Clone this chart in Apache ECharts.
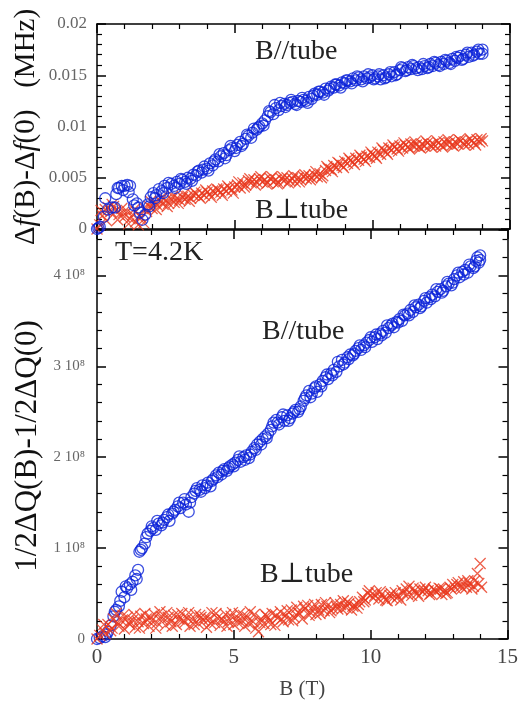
<!DOCTYPE html>
<html>
<head>
<meta charset="utf-8">
<script src="https://cdn.jsdelivr.net/npm/echarts@6/dist/echarts.min.js"></script>
<style>
html,body{margin:0;padding:0;background:#fff;}
#chart{width:521px;height:705px;}
</style>
</head>
<body>
<div id="chart"></div>
<script>
// Field B (T) and measured values, two field sweeps per series
const dfParallel = [[0,0],[0.1,0.0002],[0.25,0.0012],[0.4,0.0019],[0.55,0.0021],[0.7,0.0034],[0.8,0.0040],[0.9,0.0042],[1.0,0.0042],[1.1,0.0043],[1.2,0.0042],[1.3,0.0029],[1.45,0.0025],[1.55,0.0016],[1.65,0.0009],[1.75,0.0014],[1.85,0.0024],[1.95,0.0031],[2.05,0.0035],[2.15,0.0033],[2.25,0.0039],[2.35,0.0037],[2.45,0.0042],[2.55,0.0040],[2.7,0.0044],[2.8,0.0042],[2.9,0.0046],[3.0,0.0044],[3.1,0.0048],[3.2,0.0046],[3.3,0.0050],[3.4,0.0049],[3.5,0.0053],[3.6,0.0052],[3.7,0.0057],[3.8,0.0055],[3.9,0.0061],[4.0,0.0059],[4.1,0.0064],[4.2,0.0062],[4.3,0.0068],[4.4,0.0066],[4.5,0.0071],[4.6,0.0074],[4.7,0.0072],[4.8,0.0077],[4.9,0.0079],[5.0,0.0076],[5.1,0.0082],[5.2,0.0085],[5.3,0.0083],[5.4,0.0088],[5.5,0.0091],[5.6,0.0089],[5.7,0.0098],[5.8,0.0097],[5.9,0.0100],[6.0,0.0103],[6.1,0.0106],[6.2,0.0110],[6.3,0.0114],[6.4,0.0112],[6.5,0.0118],[6.6,0.0116],[6.7,0.0120],[6.8,0.0122],[6.9,0.0121],[7.0,0.0123],[7.1,0.0124],[7.2,0.0122],[7.3,0.0125],[7.4,0.0124],[7.5,0.0126],[7.6,0.0125],[7.7,0.0129],[7.8,0.0127],[7.9,0.0132],[8.0,0.0131],[8.1,0.0134],[8.2,0.0133],[8.3,0.0137],[8.4,0.0135],[8.5,0.0139],[8.6,0.0138],[8.7,0.0141],[8.8,0.0140],[8.9,0.0143],[9.0,0.0142],[9.1,0.0145],[9.2,0.0144],[9.3,0.0147],[9.4,0.0145],[9.5,0.0148],[9.6,0.0146],[9.7,0.0149],[9.8,0.0147],[9.9,0.0148],[10.0,0.0150],[10.1,0.0147],[10.2,0.0149],[10.3,0.0146],[10.4,0.0150],[10.5,0.0148],[10.6,0.0151],[10.7,0.0149],[10.8,0.0153],[10.9,0.0151],[11.0,0.0155],[11.1,0.0157],[11.2,0.0154],[11.3,0.0158],[11.4,0.0156],[11.5,0.0159],[11.6,0.0157],[11.7,0.0158],[11.8,0.0156],[11.9,0.0159],[12.0,0.0157],[12.1,0.0161],[12.2,0.0159],[12.3,0.0162],[12.4,0.0160],[12.5,0.0163],[12.6,0.0161],[12.7,0.0164],[12.8,0.0162],[12.9,0.0166],[13.0,0.0164],[13.1,0.0167],[13.2,0.0169],[13.3,0.0166],[13.4,0.0170],[13.5,0.0168],[13.6,0.0172],[13.7,0.0170],[13.8,0.0173],[13.9,0.0171],[14.0,0.0175]];
const dfParallelSweep2 = [[0.05,0.0001],[0.3,0.0030],[0.65,0.0021],[0.75,0.0040],[0.95,0.0038],[1.15,0.0036],[1.35,0.0023],[1.5,0.0021],[1.9,0.0022],[2.1,0.0030],[2.4,0.0035],[2.6,0.0045],[2.85,0.0040],[3.05,0.0049],[3.25,0.0044],[3.45,0.0047],[3.65,0.0056],[3.85,0.0058],[4.05,0.0057],[4.25,0.0066],[4.45,0.0073],[4.65,0.0069],[4.85,0.0081],[5.05,0.0079],[5.25,0.0081],[5.45,0.0092],[5.65,0.0094],[5.85,0.0099],[6.05,0.0101],[6.25,0.0115],[6.45,0.0121],[6.65,0.0123],[6.85,0.0119],[7.05,0.0126],[7.25,0.0121],[7.45,0.0128],[7.65,0.0123],[7.85,0.0130],[8.05,0.0134],[8.25,0.0131],[8.45,0.0137],[8.65,0.0141],[8.85,0.0138],[9.05,0.0145],[9.25,0.0142],[9.45,0.0149],[9.65,0.0144],[9.85,0.0151],[10.05,0.0146],[10.25,0.0151],[10.45,0.0147],[10.65,0.0153],[10.85,0.0150],[11.05,0.0158],[11.25,0.0155],[11.45,0.0160],[11.65,0.0155],[11.85,0.0161],[12.05,0.0158],[12.25,0.0163],[12.45,0.0159],[12.65,0.0165],[12.85,0.0161],[13.05,0.0168],[13.25,0.0165],[13.45,0.0172],[13.65,0.0169],[13.85,0.0175],[14.0,0.0171]];

const dfPerp = [[0,0],[0.1,0.0004],[0.2,0.0013],[0.3,0.0019],[0.4,0.0021],[0.5,0.0017],[0.6,0.0022],[0.7,0.0018],[0.8,0.0014],[0.9,0.0020],[1.0,0.0012],[1.1,0.0017],[1.2,0.0010],[1.3,0.0014],[1.4,0.0007],[1.5,0.0004],[1.6,0.0011],[1.7,0.0006],[1.8,0.0017],[1.9,0.0022],[2.0,0.0020],[2.1,0.0026],[2.2,0.0023],[2.3,0.0027],[2.4,0.0024],[2.5,0.0028],[2.6,0.0025],[2.7,0.0029],[2.8,0.0026],[2.9,0.0030],[3.0,0.0028],[3.1,0.0031],[3.2,0.0029],[3.3,0.0032],[3.4,0.0030],[3.5,0.0033],[3.6,0.0034],[3.7,0.0032],[3.8,0.0035],[3.9,0.0033],[4.0,0.0036],[4.1,0.0034],[4.2,0.0037],[4.3,0.0035],[4.4,0.0038],[4.5,0.0036],[4.6,0.0039],[4.7,0.0037],[4.8,0.0040],[4.9,0.0038],[5.0,0.0041],[5.1,0.0043],[5.2,0.0040],[5.3,0.0045],[5.4,0.0043],[5.5,0.0047],[5.6,0.0045],[5.7,0.0048],[5.8,0.0046],[5.9,0.0049],[6.0,0.0046],[6.1,0.0048],[6.2,0.0045],[6.3,0.0049],[6.4,0.0046],[6.5,0.0048],[6.6,0.0045],[6.7,0.0049],[6.8,0.0047],[6.9,0.0050],[7.0,0.0047],[7.1,0.0049],[7.2,0.0046],[7.3,0.0050],[7.4,0.0048],[7.5,0.0051],[7.6,0.0049],[7.7,0.0052],[7.8,0.0050],[7.9,0.0053],[8.0,0.0051],[8.1,0.0054],[8.2,0.0052],[8.3,0.0057],[8.4,0.0059],[8.5,0.0058],[8.6,0.0062],[8.7,0.0060],[8.8,0.0064],[8.9,0.0062],[9.0,0.0066],[9.1,0.0064],[9.2,0.0067],[9.3,0.0065],[9.4,0.0069],[9.5,0.0067],[9.6,0.0070],[9.7,0.0068],[9.8,0.0071],[9.9,0.0070],[10.0,0.0073],[10.1,0.0071],[10.2,0.0075],[10.3,0.0073],[10.4,0.0077],[10.5,0.0075],[10.6,0.0079],[10.7,0.0077],[10.8,0.0080],[10.9,0.0078],[11.0,0.0081],[11.1,0.0079],[11.2,0.0082],[11.3,0.0080],[11.4,0.0083],[11.5,0.0081],[11.6,0.0082],[11.7,0.0080],[11.8,0.0083],[11.9,0.0081],[12.0,0.0084],[12.1,0.0082],[12.2,0.0083],[12.3,0.0081],[12.4,0.0084],[12.5,0.0082],[12.6,0.0085],[12.7,0.0083],[12.8,0.0084],[12.9,0.0082],[13.0,0.0085],[13.1,0.0083],[13.2,0.0086],[13.3,0.0084],[13.4,0.0085],[13.5,0.0083],[13.6,0.0086],[13.7,0.0084],[13.8,0.0087],[13.9,0.0085],[14.0,0.0086]];
const dfPerpSweep2 = [[0.15,0.0018],[0.35,0.0008],[0.55,0.0024],[0.75,0.0009],[0.95,0.0016],[1.15,0.0005],[1.35,0.0019],[1.55,0.0013],[1.75,0.0020],[1.95,0.0027],[2.15,0.0019],[2.35,0.0031],[2.55,0.0022],[2.75,0.0032],[2.95,0.0025],[3.15,0.0034],[3.35,0.0027],[3.55,0.0036],[3.75,0.0030],[3.95,0.0038],[4.15,0.0031],[4.35,0.0039],[4.55,0.0033],[4.75,0.0042],[4.95,0.0035],[5.15,0.0046],[5.35,0.0041],[5.55,0.0049],[5.75,0.0043],[5.95,0.0051],[6.15,0.0044],[6.35,0.0051],[6.55,0.0044],[6.75,0.0051],[6.95,0.0045],[7.15,0.0052],[7.35,0.0046],[7.55,0.0053],[7.75,0.0048],[7.95,0.0056],[8.15,0.0050],[8.35,0.0061],[8.55,0.0056],[8.75,0.0065],[8.95,0.0060],[9.15,0.0069],[9.35,0.0063],[9.55,0.0072],[9.75,0.0066],[9.95,0.0075],[10.15,0.0069],[10.35,0.0079],[10.55,0.0073],[10.75,0.0082],[10.95,0.0076],[11.15,0.0084],[11.35,0.0078],[11.55,0.0085],[11.75,0.0079],[11.95,0.0086],[12.15,0.0080],[12.35,0.0086],[12.55,0.0080],[12.75,0.0087],[12.95,0.0081],[13.15,0.0087],[13.35,0.0082],[13.55,0.0088],[13.75,0.0082],[13.95,0.0088]];

// 1/2ΔQ values in units of 1e8
const dqParallel = [[0,0],[0.1,0.01],[0.2,0.03],[0.3,0.02],[0.4,0.08],[0.5,0.15],[0.6,0.25],[0.7,0.32],[0.8,0.36],[0.9,0.52],[1.0,0.46],[1.1,0.56],[1.2,0.60],[1.3,0.63],[1.4,0.70],[1.5,0.76],[1.55,0.96],[1.65,1.00],[1.75,1.05],[1.85,1.16],[1.95,1.19],[2.05,1.22],[2.15,1.20],[2.25,1.27],[2.35,1.25],[2.45,1.31],[2.55,1.34],[2.65,1.30],[2.75,1.38],[2.85,1.42],[2.95,1.46],[3.05,1.44],[3.15,1.50],[3.25,1.48],[3.35,1.40],[3.45,1.56],[3.55,1.60],[3.65,1.66],[3.75,1.64],[3.85,1.69],[3.95,1.66],[4.05,1.72],[4.15,1.68],[4.25,1.76],[4.35,1.80],[4.45,1.83],[4.55,1.81],[4.65,1.87],[4.75,1.85],[4.85,1.90],[4.95,1.92],[5.05,1.94],[5.15,1.97],[5.25,1.95],[5.35,2.00],[5.45,2.02],[5.55,1.99],[5.65,2.06],[5.75,2.10],[5.85,2.14],[5.95,2.17],[6.05,2.20],[6.15,2.23],[6.25,2.26],[6.35,2.30],[6.45,2.38],[6.55,2.41],[6.65,2.36],[6.75,2.44],[6.85,2.40],[6.95,2.46],[7.05,2.43],[7.15,2.48],[7.25,2.52],[7.35,2.50],[7.45,2.56],[7.55,2.62],[7.65,2.68],[7.75,2.73],[7.85,2.70],[7.95,2.76],[8.05,2.72],[8.15,2.80],[8.25,2.84],[8.35,2.88],[8.45,2.86],[8.55,2.92],[8.65,2.96],[8.75,2.94],[8.85,3.00],[8.95,3.07],[9.05,3.04],[9.15,3.10],[9.25,3.13],[9.35,3.12],[9.45,3.17],[9.55,3.20],[9.65,3.18],[9.75,3.23],[9.85,3.26],[9.95,3.29],[10.05,3.27],[10.15,3.32],[10.25,3.30],[10.35,3.36],[10.45,3.39],[10.55,3.37],[10.65,3.42],[10.75,3.45],[10.85,3.43],[10.95,3.49],[11.05,3.52],[11.15,3.50],[11.25,3.56],[11.35,3.58],[11.45,3.62],[11.55,3.60],[11.65,3.65],[11.75,3.68],[11.85,3.66],[11.95,3.72],[12.05,3.70],[12.15,3.76],[12.25,3.79],[12.35,3.77],[12.45,3.82],[12.55,3.85],[12.65,3.83],[12.75,3.88],[12.85,3.91],[12.95,3.89],[13.05,3.96],[13.15,4.00],[13.25,3.98],[13.35,4.04],[13.45,4.06],[13.55,4.03],[13.65,4.10],[13.75,4.08],[13.85,4.16],[13.95,4.14],[14.0,4.22],[13.9,4.20]];
const dqParallelSweep2 = [[0.35,0.05],[0.65,0.30],[0.85,0.42],[1.05,0.58],[1.25,0.54],[1.45,0.66],[1.6,0.98],[1.8,1.12],[2.0,1.24],[2.2,1.30],[2.4,1.28],[2.6,1.37],[2.8,1.40],[3.0,1.50],[3.2,1.54],[3.4,1.50],[3.6,1.63],[3.8,1.62],[4.0,1.69],[4.2,1.74],[4.4,1.78],[4.6,1.85],[4.8,1.88],[5.0,1.90],[5.2,2.01],[5.4,1.97],[5.6,2.03],[5.8,2.08],[6.0,2.14],[6.2,2.21],[6.4,2.34],[6.6,2.38],[6.8,2.47],[7.0,2.40],[7.2,2.50],[7.4,2.53],[7.6,2.65],[7.8,2.66],[8.0,2.78],[8.2,2.78],[8.4,2.91],[8.6,2.90],[8.8,3.05],[9.0,3.02],[9.2,3.08],[9.4,3.14],[9.6,3.23],[9.8,3.21],[10.0,3.32],[10.2,3.35],[10.4,3.34],[10.6,3.45],[10.8,3.47],[11.0,3.48],[11.2,3.57],[11.4,3.56],[11.6,3.67],[11.8,3.64],[12.0,3.75],[12.2,3.74],[12.4,3.85],[12.6,3.81],[12.8,3.93],[13.0,3.92],[13.2,4.03],[13.4,4.01],[13.6,4.12],[13.8,4.10],[14.0,4.17]];

const dqPerp = [[0,0],[0.1,0.04],[0.2,0.10],[0.3,0.06],[0.4,0.16],[0.5,0.09],[0.6,0.22],[0.7,0.28],[0.8,0.14],[0.9,0.20],[1.0,0.11],[1.1,0.24],[1.2,0.16],[1.3,0.21],[1.4,0.13],[1.5,0.19],[1.6,0.25],[1.7,0.17],[1.8,0.22],[1.9,0.14],[2.0,0.20],[2.1,0.27],[2.2,0.18],[2.3,0.30],[2.4,0.21],[2.5,0.15],[2.6,0.24],[2.7,0.19],[2.8,0.26],[2.9,0.16],[3.0,0.22],[3.1,0.28],[3.2,0.18],[3.3,0.23],[3.4,0.14],[3.5,0.21],[3.6,0.27],[3.7,0.17],[3.8,0.24],[3.9,0.20],[4.0,0.13],[4.1,0.22],[4.2,0.29],[4.3,0.18],[4.4,0.23],[4.5,0.15],[4.6,0.21],[4.7,0.27],[4.8,0.19],[4.9,0.25],[5.0,0.16],[5.1,0.22],[5.2,0.28],[5.3,0.20],[5.4,0.14],[5.5,0.24],[5.6,0.30],[5.7,0.19],[5.8,0.12],[5.9,0.08],[6.0,0.22],[6.1,0.17],[6.2,0.25],[6.3,0.20],[6.4,0.28],[6.5,0.15],[6.6,0.23],[6.7,0.30],[6.8,0.19],[6.9,0.26],[7.0,0.21],[7.1,0.32],[7.2,0.24],[7.3,0.35],[7.4,0.28],[7.5,0.22],[7.6,0.33],[7.7,0.37],[7.8,0.29],[7.9,0.34],[8.0,0.27],[8.1,0.32],[8.2,0.38],[8.3,0.31],[8.4,0.36],[8.5,0.29],[8.6,0.34],[8.7,0.40],[8.8,0.33],[8.9,0.38],[9.0,0.42],[9.1,0.35],[9.2,0.39],[9.3,0.32],[9.4,0.37],[9.5,0.34],[9.6,0.41],[9.7,0.46],[9.8,0.43],[9.9,0.50],[10.0,0.48],[10.1,0.45],[10.2,0.51],[10.3,0.44],[10.4,0.49],[10.5,0.46],[10.6,0.42],[10.7,0.48],[10.8,0.45],[10.9,0.51],[11.0,0.47],[11.1,0.43],[11.2,0.50],[11.3,0.55],[11.4,0.58],[11.5,0.48],[11.6,0.53],[11.7,0.50],[11.8,0.55],[11.9,0.52],[12.0,0.57],[12.1,0.53],[12.2,0.50],[12.3,0.55],[12.4,0.52],[12.5,0.56],[12.6,0.49],[12.7,0.54],[12.8,0.51],[12.9,0.57],[13.0,0.60],[13.1,0.56],[13.2,0.62],[13.3,0.58],[13.4,0.63],[13.5,0.57],[13.6,0.61],[13.7,0.55],[13.8,0.64],[13.9,0.72],[14.0,0.83],[14.05,0.57]];
const dqPerpSweep2 = [[0.25,0.16],[0.55,0.12],[0.75,0.18],[0.95,0.26],[1.15,0.18],[1.35,0.27],[1.55,0.12],[1.75,0.28],[1.95,0.24],[2.15,0.12],[2.35,0.25],[2.55,0.29],[2.75,0.14],[2.95,0.27],[3.15,0.20],[3.35,0.29],[3.55,0.16],[3.75,0.26],[3.95,0.24],[4.15,0.17],[4.35,0.28],[4.55,0.22],[4.75,0.14],[4.95,0.29],[5.15,0.18],[5.35,0.26],[5.55,0.17],[5.75,0.27],[5.95,0.18],[6.15,0.27],[6.35,0.16],[6.55,0.26],[6.75,0.22],[6.95,0.31],[7.15,0.20],[7.35,0.29],[7.55,0.36],[7.75,0.26],[7.95,0.38],[8.15,0.28],[8.35,0.40],[8.55,0.31],[8.75,0.36],[8.95,0.33],[9.15,0.41],[9.35,0.36],[9.55,0.38],[9.75,0.41],[9.95,0.53],[10.15,0.48],[10.35,0.52],[10.55,0.43],[10.75,0.50],[10.95,0.45],[11.15,0.53],[11.35,0.49],[11.55,0.56],[11.75,0.47],[11.95,0.54],[12.15,0.49],[12.35,0.53],[12.55,0.55],[12.75,0.50],[12.95,0.55],[13.15,0.60],[13.35,0.56],[13.55,0.64],[13.75,0.58],[13.95,0.61]];

const xTicks = [0, 5, 10, 15];
const topYTicks = ['0', '0.005', '0.01', '0.015', '0.02'];
const bottomYTicks = ['0', '1 10⁸', '2 10⁸', '3 10⁸', '4 10⁸'];

const SERIF = '"Liberation Serif","DejaVu Serif",serif';
const BLUE = '#0a22d8';
const RED = '#e8381e';
const AX = '#000000';

function baseAxis(extra) {
  return Object.assign({
    type: 'value',
    axisLine: { show: true, onZero: false, lineStyle: { color: AX, width: 1.5 } },
    axisTick: { show: true, inside: true, length: 9, lineStyle: { color: AX, width: 1.5 } },
    minorTick: { show: true, splitNumber: 5, length: 5, lineStyle: { color: AX, width: 1.2 } },
    splitLine: { show: false },
    minorSplitLine: { show: false },
    axisLabel: { show: false }
  }, extra);
}

const xBase = { min: xTicks[0], max: xTicks[xTicks.length - 1], interval: 5 };

const chart = echarts.init(document.getElementById('chart'), null, { renderer: 'canvas' });

const circleStyle = { color: 'rgba(0,0,0,0)', borderColor: BLUE, borderWidth: 1.3 };
const crossStyle = { color: 'rgba(0,0,0,0)', borderColor: RED, borderWidth: 1.3 };
const CROSS = 'path://M0,0L10,10M10,0L0,10';

const option = {
  animation: false,
  backgroundColor: '#fff',
  grid: [
    { left: 97, top: 24, width: 413, height: 205 },
    { left: 97, top: 230, width: 413, height: 413 }
  ],
  xAxis: [
    baseAxis(Object.assign({ gridIndex: 0, position: 'bottom' }, xBase)),
    baseAxis(Object.assign({ gridIndex: 0, position: 'top' }, xBase)),
    baseAxis(Object.assign({
      gridIndex: 1, position: 'bottom',
      name: 'B (T)', nameLocation: 'middle', nameGap: 40,
      nameTextStyle: { fontFamily: SERIF, fontSize: 21, color: '#444' },
      axisLabel: { show: true, fontFamily: SERIF, fontSize: 21, color: '#444', margin: 8,
        formatter: v => xTicks.indexOf(v) >= 0 ? String(v) : '' }
    }, xBase)),
    baseAxis(Object.assign({ gridIndex: 1, position: 'top' }, xBase))
  ],
  yAxis: [
    baseAxis({ gridIndex: 0, position: 'left', min: 0, max: 0.02, interval: 0.005,
      axisLabel: { show: true, fontFamily: SERIF, fontSize: 17, color: '#666', margin: 10,
        formatter: (v) => { const i = Math.round(v / 0.005); return Math.abs(v - i * 0.005) < 1e-9 ? topYTicks[i] : ''; } } }),
    baseAxis({ gridIndex: 0, position: 'right', min: 0, max: 0.02, interval: 0.005 }),
    baseAxis({ gridIndex: 1, position: 'left', min: 0, max: 4.5, interval: 1,
      axisLabel: { show: true, fontFamily: SERIF, fontSize: 15, color: '#666', margin: 12,
        formatter: (v) => (Number.isInteger(v) && bottomYTicks[v] !== undefined) ? bottomYTicks[v] : '' } }),
    baseAxis({ gridIndex: 1, position: 'right', min: 0, max: 4.5, interval: 1 })
  ],
  series: [
    { type: 'scatter', xAxisIndex: 0, yAxisIndex: 0, data: dfPerp.concat(dfPerpSweep2),
      symbol: CROSS, symbolSize: 11, itemStyle: crossStyle, emphasis: { disabled: true }, silent: true },
    { type: 'scatter', xAxisIndex: 0, yAxisIndex: 0, data: dfParallel.concat(dfParallelSweep2),
      symbol: 'circle', symbolSize: 11, itemStyle: circleStyle, emphasis: { disabled: true }, silent: true },
    { type: 'scatter', xAxisIndex: 2, yAxisIndex: 2, data: dqParallel.concat(dqParallelSweep2),
      symbol: 'circle', symbolSize: 11, itemStyle: circleStyle, emphasis: { disabled: true }, silent: true },
    { type: 'scatter', xAxisIndex: 2, yAxisIndex: 2, data: dqPerp.concat(dqPerpSweep2),
      symbol: CROSS, symbolSize: 11, itemStyle: crossStyle, emphasis: { disabled: true }, silent: true }
  ],
  graphic: [
    { type: 'text', x: 26, y: 127, rotation: Math.PI / 2,
      style: { text: '{n|Δ}{i|f}{n|(B)-Δ}{i|f}{n|(0)   (MHz)}', align: 'center', verticalAlign: 'middle',
        rich: { n: { fontFamily: SERIF, fontSize: 29, fill: '#111' }, i: { fontFamily: SERIF, fontSize: 29, fontStyle: 'italic', fill: '#111' } } } },
    { type: 'text', x: 28, y: 446, rotation: Math.PI / 2,
      style: { text: '1/2ΔQ(B)-1/2ΔQ(0)', align: 'center', verticalAlign: 'middle',
        font: '31px ' + SERIF, fill: '#111' } },
    { type: 'text', x: 255, y: 52, style: { text: 'B//tube', align: 'left', verticalAlign: 'middle', font: '28px ' + SERIF, fill: '#222' } },
    { type: 'text', x: 255, y: 211, style: { text: 'B⊥tube', align: 'left', verticalAlign: 'middle', font: '28px ' + SERIF, fill: '#222' } },
    { type: 'text', x: 115, y: 253, style: { text: 'T=4.2K', align: 'left', verticalAlign: 'middle', font: '28px ' + SERIF, fill: '#222' } },
    { type: 'text', x: 262, y: 332, style: { text: 'B//tube', align: 'left', verticalAlign: 'middle', font: '28px ' + SERIF, fill: '#222' } },
    { type: 'text', x: 260, y: 575, style: { text: 'B⊥tube', align: 'left', verticalAlign: 'middle', font: '28px ' + SERIF, fill: '#222' } }
  ]
};

chart.setOption(option);
</script>
</body>
</html>
